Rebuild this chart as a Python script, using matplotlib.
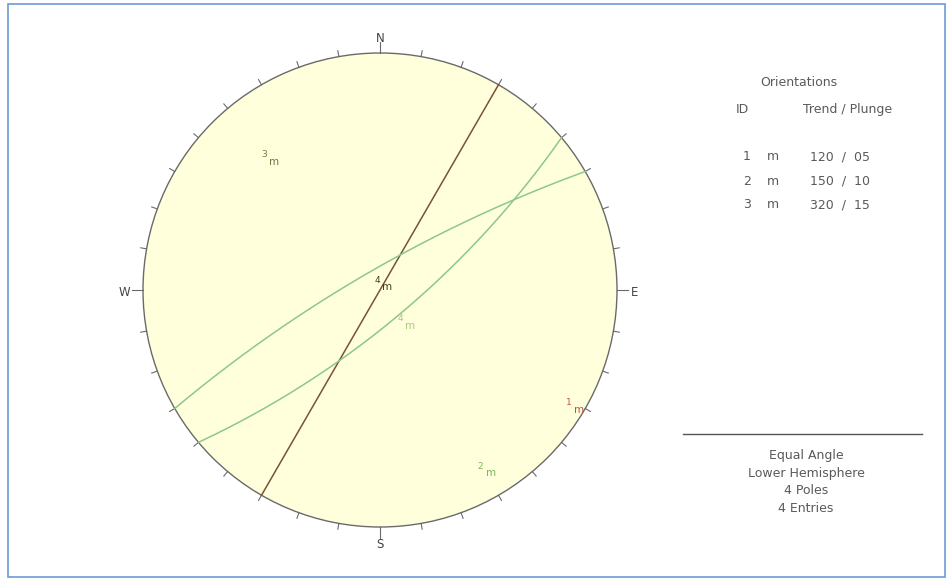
import numpy as np
import matplotlib
matplotlib.use("Agg")
import matplotlib.pyplot as plt
from matplotlib.patches import Circle, Rectangle

# Mean pole orientations (trend / plunge, degrees)
pole_ids = ["1", "2", "3"]
pole_types = ["m", "m", "m"]
pole_trends = [120, 150, 320]
pole_plunges = [5, 10, 15]
pole_colors = ["#c0504d", "#78b85a", "#707a40"]

# Additional labelled poles near the centre of the net (trend / plunge)
extra_labels = ["4", "4"]
extra_trends = [345, 142]
extra_plunges = [83, 75]
extra_colors = ["#3e3e22", "#a6cc7c"]

# Great circles drawn on the net (dip direction / dip, degrees)
plane_dipdirs = [300, 330, 140]
plane_dips = [90, 80, 75]
plane_colors = ["#7a5238", "#8cc88a", "#8cc88a"]

# Legend / info text
info_lines = ["Equal Angle", "Lower Hemisphere", "4 Poles", "4 Entries"]

W, H = 953, 579
fig = plt.figure(figsize=(W / 100, H / 100), dpi=100)
fig.patch.set_facecolor("white")

# frame around the whole figure
frame_ax = fig.add_axes([0, 0, 1, 1])
frame_ax.set_xlim(0, W)
frame_ax.set_ylim(H, 0)
frame_ax.axis("off")
frame_ax.add_patch(Rectangle((8, 4), 937, 573, fill=False, ec="#6c9bd2", lw=1.2))

# stereonet axes: unit circle centred at pixel (380, 290) with radius 237
cx, cy, R = 380, 290, 237
half = 262
ax = fig.add_axes([(cx - half) / W, (H - cy - half) / H, 2 * half / W, 2 * half / H])
lim = half / R
ax.set_xlim(-lim, lim)
ax.set_ylim(-lim, lim)
ax.set_aspect("equal")
ax.axis("off")


def project(trend, plunge):
    t = np.radians(trend)
    r = np.tan(np.radians(90 - np.asarray(plunge)) / 2)
    return r * np.sin(t), r * np.cos(t)


def great_circle(dip_dir, dip, n=361):
    dd = np.radians(dip_dir)
    dp = np.radians(dip)
    st = dd - np.pi / 2
    s = np.array([np.cos(st), np.sin(st), 0.0])
    d = np.array([np.cos(dp) * np.cos(dd), np.cos(dp) * np.sin(dd), np.sin(dp)])
    t = np.linspace(0, np.pi, n)
    v = np.outer(np.cos(t), s) + np.outer(np.sin(t), d)
    down = np.clip(v[:, 2], 0, 1)
    plunge = np.degrees(np.arcsin(down))
    trend = np.degrees(np.arctan2(v[:, 1], v[:, 0]))
    return project(trend, plunge)


ax.add_patch(Circle((0, 0), 1, fc="#ffffdc", ec="#6a6a6a", lw=1.0, zorder=1))

# azimuth ticks every 10 degrees
for az in range(0, 360, 10):
    a = np.radians(az)
    L = 0.045 if az % 90 == 0 else 0.025
    ax.plot([np.sin(a), (1 + L) * np.sin(a)], [np.cos(a), (1 + L) * np.cos(a)],
            color="#6a6a6a", lw=0.8, zorder=2)

lab_kw = dict(fontsize=8.5, color="#444444", ha="center", va="center")
ax.text(0, 1.06, "N", **lab_kw)
ax.text(0, -1.074, "S", **lab_kw)
ax.text(1.072, -0.01, "E", **lab_kw)
ax.text(-1.08, -0.01, "W", **lab_kw)

# great circles
for ddir, dip, col in zip(plane_dipdirs, plane_dips, plane_colors):
    x, y = great_circle(ddir, dip)
    ax.plot(x, y, color=col, lw=1.1, zorder=3)


def pole_label(trend, plunge, num, col):
    x, y = project(trend, plunge)
    ax.text(x + 0.005, y - 0.018, num, fontsize=6.5, color=col, ha="center",
            va="center", zorder=4)
    ax.text(x + 0.047, y - 0.047, "m", fontsize=7.5, color=col, ha="center",
            va="center", zorder=4)


for pid, tr, pl, col in zip(pole_ids, pole_trends, pole_plunges, pole_colors):
    pole_label(tr, pl, pid, col)
for lab, tr, pl, col in zip(extra_labels, extra_trends, extra_plunges, extra_colors):
    pole_label(tr, pl, lab, col)

# orientation table
txt = dict(fontsize=9, color="#5a5a5a", va="center")
fig.text(799 / W, 1 - 83 / H, "Orientations", ha="center", **txt)
fig.text(742 / W, 1 - 110 / H, "ID", ha="center", **txt)
fig.text(848 / W, 1 - 110 / H, "Trend / Plunge", ha="center", **txt)
for i, (pid, pt, tr, pl) in enumerate(zip(pole_ids, pole_types, pole_trends, pole_plunges)):
    yy = 1 - (157 + 24 * i) / H
    fig.text(747 / W, yy, pid, ha="center", **txt)
    fig.text(773 / W, yy, pt, ha="center", **txt)
    fig.text(840 / W, yy, f"{tr:03d}  /  {pl:02d}", ha="center", **txt)

frame_ax.plot([683, 922], [434, 434], color="#555555", lw=1.0)
for i, line in enumerate(info_lines):
    fig.text(806 / W, 1 - (455 + 18 * i) / H, line, ha="center", **txt)

fig.savefig("out.png", dpi=100)
